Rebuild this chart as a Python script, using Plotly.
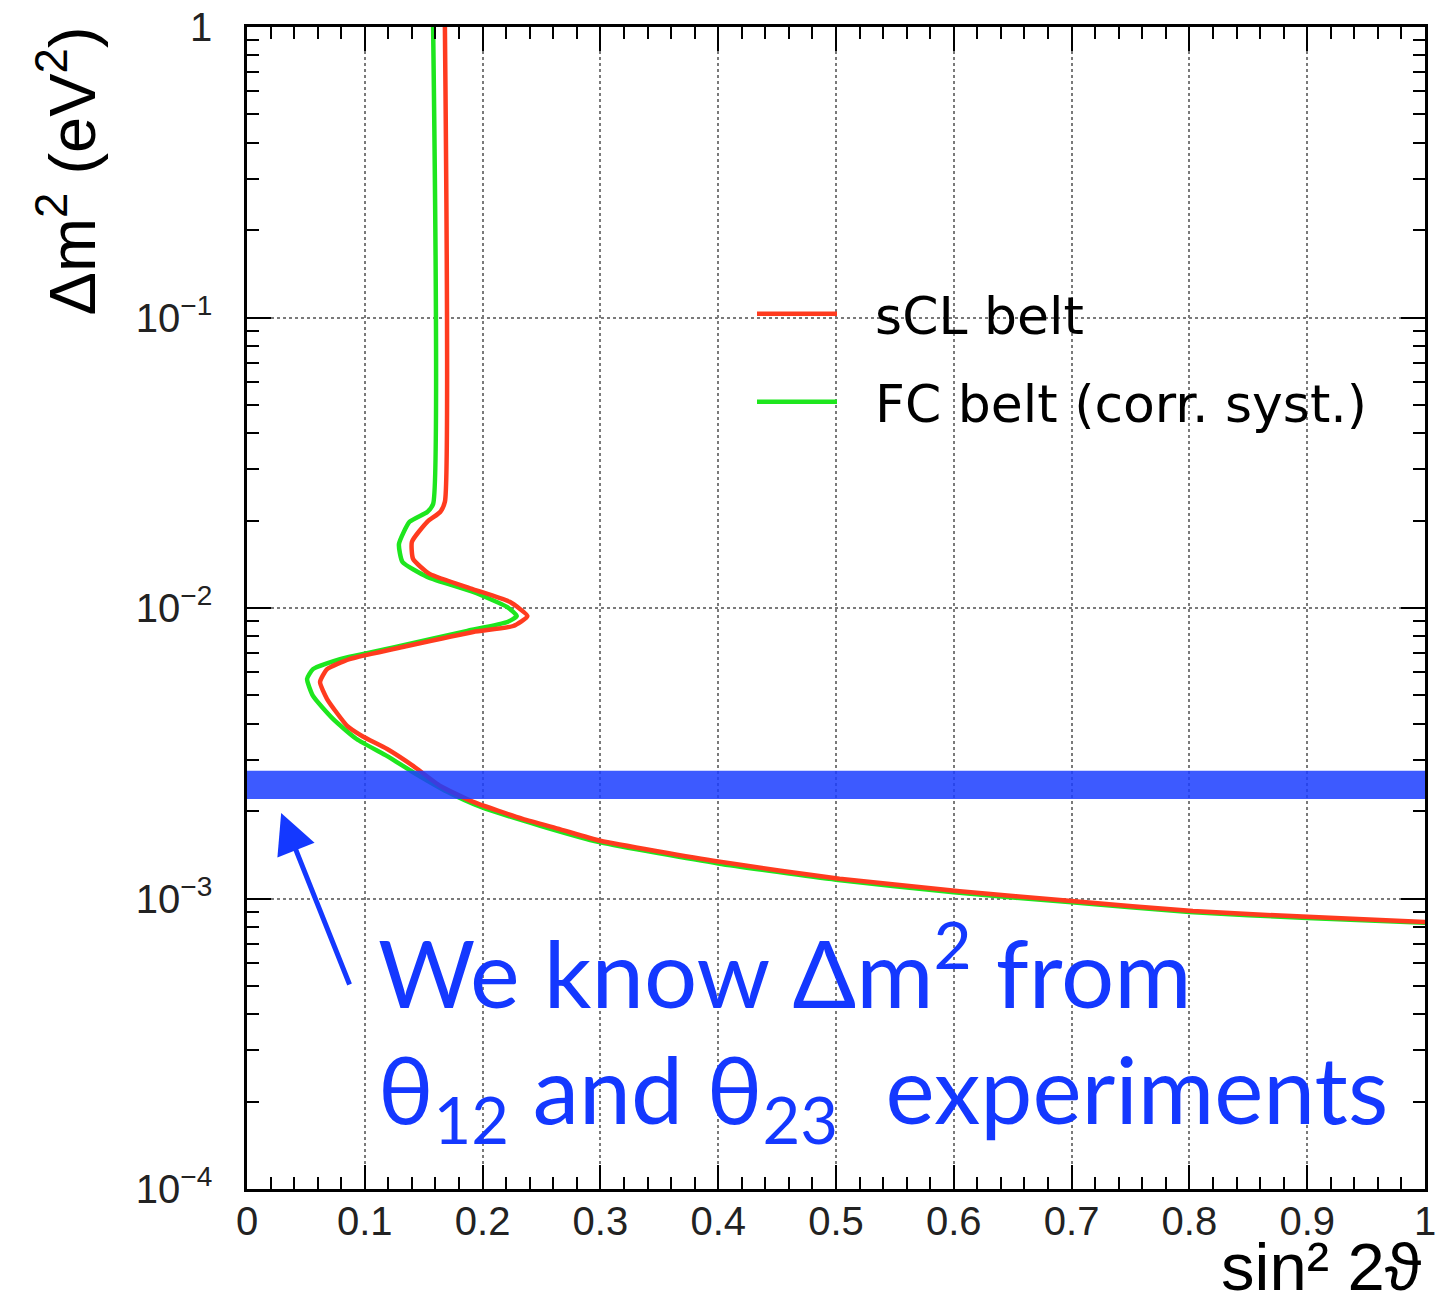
import math
import plotly.graph_objects as go

# ---- data ----
sin2_red = [0.168, 0.168, 0.164, 0.153, 0.140, 0.141, 0.155, 0.192, 0.223, 0.238, 0.226, 0.192,
            0.136, 0.087, 0.068, 0.062, 0.068, 0.085, 0.098, 0.119, 0.141, 0.164, 0.192, 0.234,
            0.266, 0.30, 0.40, 0.503, 0.605, 0.70, 0.803, 0.905, 1.0]
dm2_red = [1.0, 0.0232, 0.0214, 0.0198, 0.0169, 0.01475, 0.0131, 0.0116, 0.0105, 0.00938, 0.00867,
           0.00827, 0.0074, 0.00667, 0.00616, 0.00556, 0.00486, 0.00393, 0.00362, 0.00327, 0.00286,
           0.00244, 0.00215, 0.00188, 0.00173, 0.00158, 0.00134, 0.00117, 0.00106, 0.00098,
           0.000905, 0.000863, 0.00083]

sin2_green = [0.158, 0.158, 0.153, 0.138, 0.129, 0.132, 0.153, 0.192, 0.221, 0.229, 0.221, 0.187,
              0.130, 0.079, 0.056, 0.051, 0.056, 0.073, 0.093, 0.119, 0.141, 0.170, 0.198, 0.249,
              0.30, 0.40, 0.50, 0.60, 0.70, 0.80, 0.90, 1.0]
dm2_green = [1.0, 0.0228, 0.0214, 0.0198, 0.0166, 0.0144, 0.0128, 0.01135, 0.01007, 0.00938,
             0.00895, 0.00834, 0.0074, 0.00667, 0.00616, 0.0057, 0.00498, 0.00415, 0.00354,
             0.00309, 0.00272, 0.00233, 0.00207, 0.00178, 0.00156, 0.00132, 0.00116, 0.00105,
             0.00097, 0.000898, 0.000857, 0.000825]

band_dm2 = [2.2e-3, 2.75e-3]          # known Δm² band
arrow_tip = (0.029, 1.97e-3)          # (sin²2θ, Δm²) where the arrow points

x_tick_vals = [0, 0.1, 0.2, 0.3, 0.4, 0.5, 0.6, 0.7, 0.8, 0.9, 1.0]
x_tick_text = ["0", "0.1", "0.2", "0.3", "0.4", "0.5", "0.6", "0.7", "0.8", "0.9", "1"]
y_tick_vals = [1e-4, 1e-3, 1e-2, 1e-1, 1]
y_tick_text = ["10<sup>−4</sup>", "10<sup>−3</sup>", "10<sup>−2</sup>", "10<sup>−1</sup>", "1"]

RED = "#ff3b1f"
GREEN = "#1ee61e"
BLUE = "#1438ff"

# page geometry (browser body adds an 8px margin)
OFF = 8
PAGE_W, PAGE_H = 1454, 1305
PLOT_X0, PLOT_X1, PLOT_Y0, PLOT_Y1 = 247, 1425, 27, 1189
W, H = PAGE_W - OFF, PAGE_H - OFF
L, T = PLOT_X0 - OFF, PLOT_Y0 - OFF
R, B = PAGE_W - PLOT_X1, PAGE_H - PLOT_Y1
PW, PH = PLOT_X1 - PLOT_X0, PLOT_Y1 - PLOT_Y0


def px(xp):
    return (xp - PLOT_X0) / PW


def py(yp):
    return (PLOT_Y1 - yp) / PH


fig = go.Figure()
fig.add_trace(go.Scatter(x=sin2_green, y=dm2_green, mode="lines",
                         name="\u00a0\u00a0FC belt (corr. syst.)",
                         line=dict(color=GREEN, width=4.5, shape="spline", smoothing=0.5),
                         legend="legend2"))
fig.add_trace(go.Scatter(x=sin2_red, y=dm2_red, mode="lines", name="\u00a0\u00a0sCL belt",
                         line=dict(color=RED, width=4.5, shape="spline", smoothing=0.5),
                         legend="legend"))

fig.add_shape(type="rect", xref="paper", yref="y", x0=0, x1=1,
              y0=band_dm2[0], y1=band_dm2[1],
              fillcolor="rgba(27,61,255,0.85)", line=dict(width=0), layer="above")

minor_y = [k * 10 ** e for e in range(-4, 0) for k in range(2, 10)]

axis_common = dict(showline=True, linecolor="black", linewidth=2.5, mirror="allticks",
                   ticks="inside", ticklen=24, tickwidth=2, tickcolor="black",
                   showgrid=True, gridcolor="#7a7a7a", griddash="dot", gridwidth=1.5,
                   zeroline=False, ticklabeloverflow="allow", automargin=False,
                   tickfont=dict(family="Liberation Sans", size=40, color="#222"))

fig.update_xaxes(range=[0, 1], tickvals=x_tick_vals, ticktext=x_tick_text,
                 minor=dict(dtick=0.02, ticks="inside", ticklen=12, tickcolor="black",
                            tickwidth=2, showgrid=False),
                 ticklabelstandoff=-5, **axis_common)
fig.update_yaxes(type="log", range=[-4, 0], tickvals=y_tick_vals, ticktext=y_tick_text,
                 minor=dict(tickvals=minor_y, ticks="inside", ticklen=12, tickcolor="black",
                            tickwidth=2, showgrid=False),
                 ticklabelstandoff=24, **axis_common)

legend_common = dict(bgcolor="rgba(0,0,0,0)", borderwidth=0, xanchor="left", yanchor="middle",
                     font=dict(family="DejaVu Sans", size=52, color="black"),
                     itemwidth=80)

annotations = [
    # y axis title
    dict(text="Δm<sup>2</sup> (eV<sup>2</sup>)", textangle=-90, xref="paper", yref="paper",
         x=px(68), y=py(25), xanchor="center", yanchor="top", showarrow=False,
         font=dict(family="Liberation Sans", size=65, color="black")),
    # x axis title
    dict(text="sin² 2ϑ", xref="paper", yref="paper",
         x=px(1424), y=py(1306), xanchor="right", yanchor="bottom", showarrow=False,
         font=dict(family="Liberation Sans", size=67, color="black")),
    # arrow
    dict(text="", x=arrow_tip[0], y=math.log10(arrow_tip[1]), xref="x", yref="y",
         ax=69, ay=173, axref="pixel", ayref="pixel", showarrow=True,
         arrowhead=2, arrowsize=1.6, arrowwidth=5, arrowcolor=BLUE, standoff=0),
    # blue text
    dict(text="We know Δm<sup>2</sup> from", xref="paper", yref="paper",
         x=px(376), y=py(966), xanchor="left", yanchor="middle", showarrow=False,
         font=dict(family="Lato", size=94, color=BLUE)),
    dict(text="θ<sub>12</sub> and θ<sub>23</sub>\u00a0 experiments", xref="paper", yref="paper",
         x=px(376), y=py(1095), xanchor="left", yanchor="middle", showarrow=False,
         font=dict(family="Lato", size=93, color=BLUE)),
]

fig.update_layout(
    width=W, height=H, autosize=False,
    margin=dict(l=L, r=R, t=T, b=B),
    plot_bgcolor="white", paper_bgcolor="white",
    showlegend=True,
    legend=dict(x=px(752), y=py(314), **legend_common),
    legend2=dict(x=px(752), y=py(402), **legend_common),
    annotations=annotations,
)

fig.write_html("out.html")
